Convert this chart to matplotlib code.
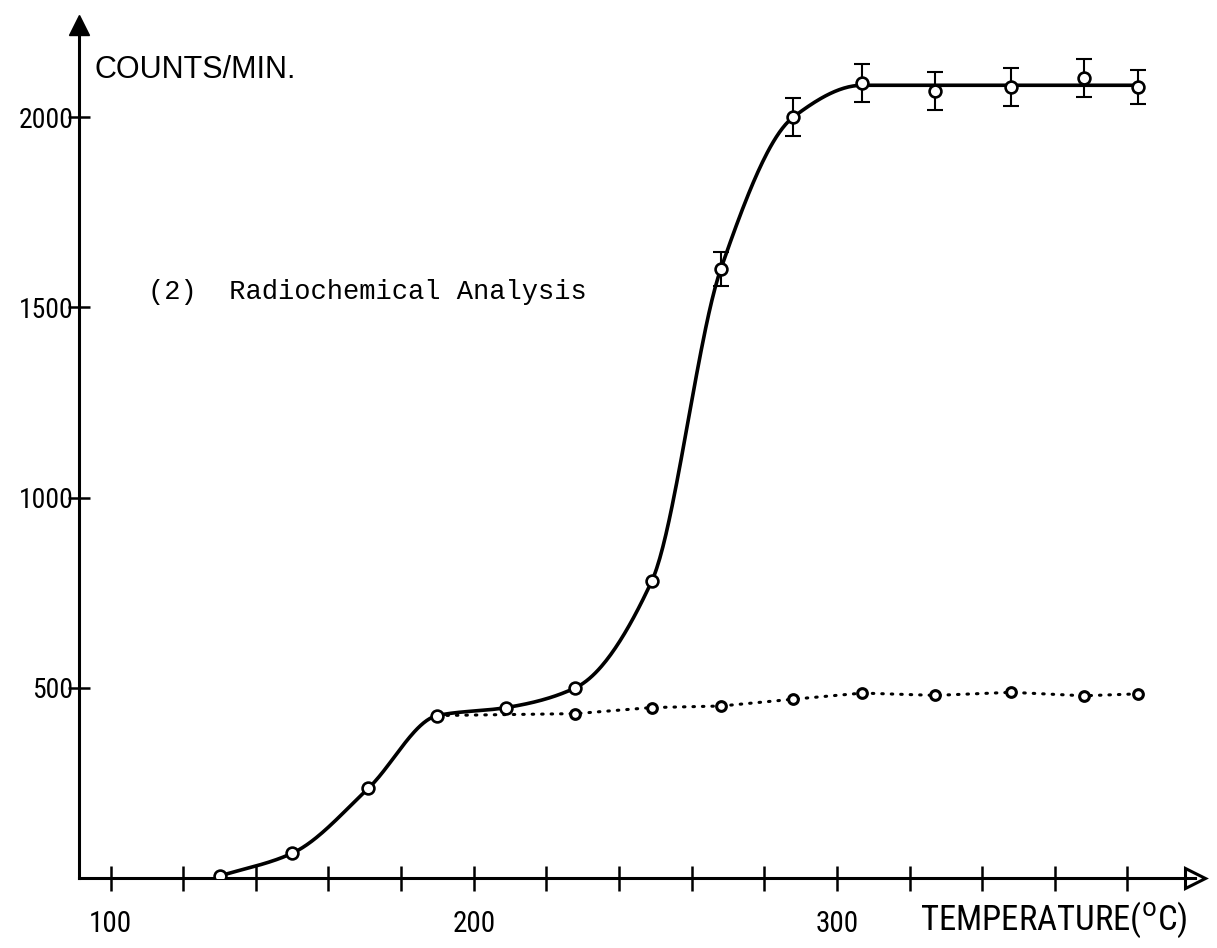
import numpy as np
import matplotlib
matplotlib.use("Agg")
import matplotlib.pyplot as plt
from matplotlib.ticker import FixedLocator, FuncFormatter
from matplotlib import font_manager

# ---------------- data ----------------
temps_main = [130, 150, 171, 190, 209, 228, 249, 268, 288, 307, 327, 348, 368, 383]
counts_main = [5, 65, 236, 427, 448, 500, 780, 1600, 2000, 2090, 2068, 2079, 2102, 2079]
err_main = [0, 0, 0, 0, 0, 0, 0, 45, 50, 50, 50, 50, 50, 45]

temps_dotted = [190, 228, 249, 268, 288, 307, 327, 348, 368, 383]
counts_dotted = [427, 432, 448, 452, 470, 486, 480, 488, 479, 484]

x_ticks = [100, 120, 140, 160, 180, 200, 220, 240, 260, 280, 300, 320, 340, 360, 380]
x_labeled = [100, 200, 300]
y_ticks = [500, 1000, 1500, 2000]

y_title = "COUNTS/MIN."
x_title = "TEMPERATURE($^{\\mathsf{o}}$C)"
annotation = "(2)  Radiochemical Analysis"

# ---------------- helpers ----------------
def pchip(x, y, xn):
    x = np.asarray(x, float); y = np.asarray(y, float)
    h = np.diff(x); d = np.diff(y) / h
    n = len(x)
    m = np.zeros(n)
    m[0] = d[0]; m[-1] = d[-1] if abs(d[-1]) > 1e-9 else 0.0
    for k in range(1, n - 1):
        if d[k - 1] * d[k] <= 0:
            m[k] = 0.0
        else:
            w1 = 2 * h[k] + h[k - 1]; w2 = h[k] + 2 * h[k - 1]
            m[k] = (w1 + w2) / (w1 / d[k - 1] + w2 / d[k])
    idx = np.clip(np.searchsorted(x, xn) - 1, 0, n - 2)
    t = (xn - x[idx]) / h[idx]
    h00 = 2 * t**3 - 3 * t**2 + 1; h10 = t**3 - 2 * t**2 + t
    h01 = -2 * t**3 + 3 * t**2; h11 = t**3 - t**2
    return h00 * y[idx] + h10 * h[idx] * m[idx] + h01 * y[idx + 1] + h11 * h[idx] * m[idx + 1]

installed = {f.name for f in font_manager.fontManager.ttflist}
narrow = [f for f in ["Roboto Condensed", "Liberation Sans Narrow"] if f in installed] + ["Liberation Sans", "DejaVu Sans"]
tick_size = 20 if narrow[0] != "Liberation Sans" else 19

# ---------------- figure ----------------
W, H = 1217, 948
fig = plt.figure(figsize=(W / 100, H / 100), dpi=100)
fig.patch.set_facecolor("white")

L, R, B, T = 79, 1195, 878, 25
ax = fig.add_axes([L / W, (H - B) / H, (R - L) / W, (B - T) / H])
ax.set_xlim(91.3, 398.6)
ax.set_ylim(0, 2242)

for s in ("top", "right"):
    ax.spines[s].set_visible(False)
for s in ("left", "bottom"):
    ax.spines[s].set_linewidth(2.2)

# axis arrows
ax.plot(0, 1, marker="^", color="k", ms=15, transform=ax.transAxes, clip_on=False)
ax.plot(1, 0, marker=">", color="k", ms=15, mfc="white", mew=2.2,
        transform=ax.transAxes, clip_on=False)

ax.xaxis.set_major_locator(FixedLocator(x_ticks))
ax.xaxis.set_major_formatter(FuncFormatter(lambda v, p: f"{int(round(v))}" if int(round(v)) in x_labeled else ""))
ax.yaxis.set_major_locator(FixedLocator(y_ticks))
ax.tick_params(axis="x", direction="inout", length=18, width=1.8, pad=14, labelsize=tick_size + 1)
ax.tick_params(axis="y", direction="inout", length=16, width=1.8, pad=-4, labelsize=tick_size)
for lab in ax.get_xticklabels() + ax.get_yticklabels():
    lab.set_family(narrow)

# smooth curve through the main series (plateau averaged)
tm = np.array(temps_main, float); cm = np.array(counts_main, float)
plateau = tm >= 300
knots_y = cm.copy(); knots_y[plateau] = cm[plateau].mean()
xs = np.linspace(tm[0], tm[-1], 600)
ax.plot(xs, pchip(tm, knots_y, xs), color="k", lw=2.6, solid_capstyle="round", zorder=3)

# dotted series
ax.plot(temps_dotted, counts_dotted, color="k", lw=2.2, linestyle=(0, (0.5, 2.6)),
        dash_capstyle="round", zorder=3)
ax.plot(temps_dotted, counts_dotted, linestyle="none", marker="o", ms=7, mfc="white",
        mec="k", mew=2.2, zorder=5)

# error bars
eb_x = [t for t, e in zip(temps_main, err_main) if e > 0]
eb_y = [c for c, e in zip(counts_main, err_main) if e > 0]
eb_e = [e for e in err_main if e > 0]
ax.errorbar(eb_x, eb_y, yerr=eb_e, fmt="none", ecolor="k", elinewidth=1.5,
            capsize=6, capthick=1.5, zorder=4)

# main markers
ax.plot(temps_main, counts_main, linestyle="none", marker="o", ms=8.5, mfc="white",
        mec="k", mew=1.9, zorder=6)

# texts
fig.text(95 / W, 1 - 70 / H, y_title, fontsize=22, family=["Liberation Sans", "DejaVu Sans"],
         ha="left", va="center")
fig.text(148 / W, 1 - 292 / H, annotation, fontsize=19.5, family=["Liberation Mono", "DejaVu Sans Mono"],
         ha="left", va="center")
fig.text(1188 / W, 1 - 920 / H, x_title, fontsize=25, family=narrow, ha="right", va="center")

fig.savefig("out.png", dpi=100, facecolor="white")
